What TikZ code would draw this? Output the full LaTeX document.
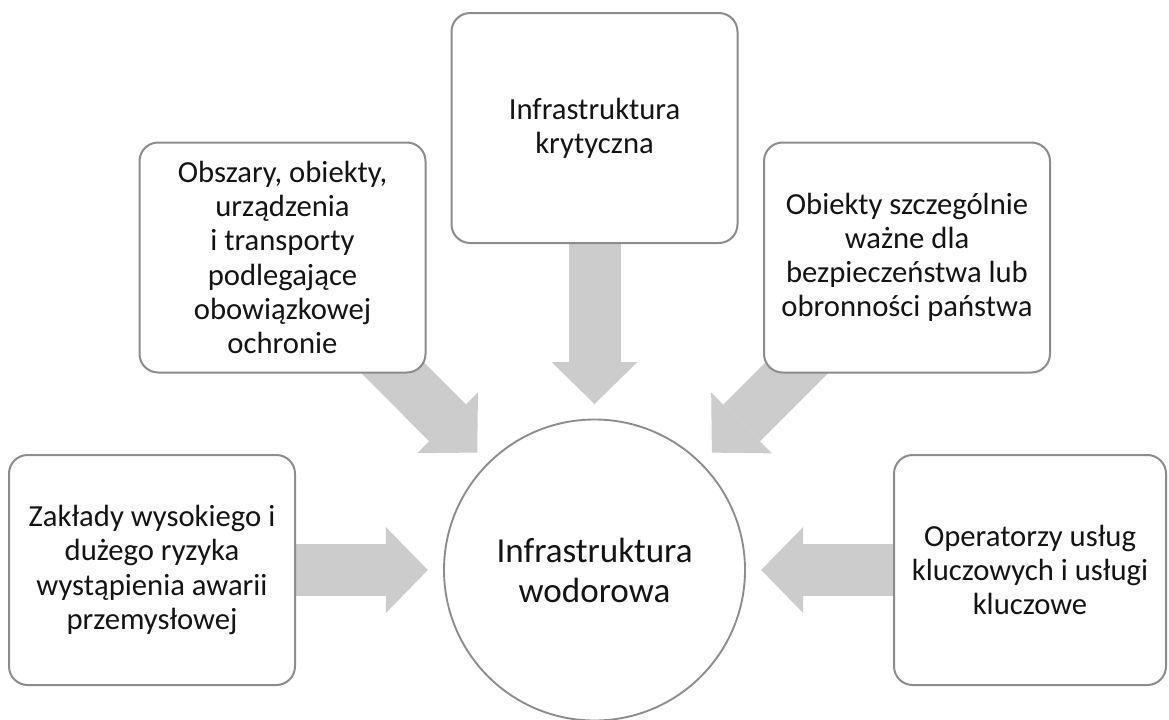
\documentclass[tikz,border=0pt]{standalone}
\usepackage{fontspec}
\setmainfont{Carlito}
\usetikzlibrary{arrows.meta,calc,backgrounds}
\definecolor{arrowgray}{RGB}{204,204,204}
\definecolor{edgegray}{RGB}{140,140,140}
\definecolor{txt}{RGB}{20,20,20}
\begin{document}
\begin{tikzpicture}[x=0.75pt,y=-0.75pt,
  box/.style={draw=edgegray, line width=1.5pt, fill=white, rounded corners=14pt,
    minimum width=214.5pt, minimum height=172.5pt, align=center, inner sep=0pt,
    font=\fontsize{23}{25.6}\selectfont, text=txt},
  hub/.style={circle, draw=edgegray, line width=1.4pt, fill=white,
    minimum size=225.75pt, inner sep=0pt, align=center,
    font=\fontsize{26.3}{30}\selectfont, text=txt},
  blockarrow/.style={draw=arrowgray, line width=39pt,
    -{Triangle[width=64.5pt,length=31.5pt,line width=0pt]}}
]
\useasboundingbox (0,0) rectangle (1169,719);
\node[hub] (c) at (594.5,570) {Infrastruktura\\wodorowa};
\node[box] (top) at (594.5,128) {Infrastruktura\\krytyczna};
\node[box] (tl) at (282.5,257.5) {Obszary, obiekty,\\urządzenia\\i transporty\\podlegające\\obowiązkowej\\ochronie};
\node[box] (tr) at (907,257.5) {Obiekty szczególnie\\ważne dla\\bezpieczeństwa lub\\obronności państwa};
\node[box] (bl) at (152,570) {Zakłady wysokiego i\\dużego ryzyka\\wystąpienia awarii\\przemysłowej};
\node[box, minimum width=204pt] (br) at (1030,570) {Operatorzy usług\\kluczowych i usługi\\kluczowe};
\begin{scope}[on background layer]
  \draw[blockarrow] (top.center) -- ($(c.center)!124.5pt!(top.center)$);
  \draw[blockarrow] (tl.center) -- ($(c.center)!124.5pt!(tl.center)$);
  \draw[blockarrow] (tr.center) -- ($(c.center)!124.5pt!(tr.center)$);
  \draw[blockarrow] (bl.center) -- ($(c.center)!125pt!(bl.center)$);
  \draw[blockarrow] (br.center) -- ($(c.center)!125pt!(br.center)$);
\end{scope}
\end{tikzpicture}
\end{document}
